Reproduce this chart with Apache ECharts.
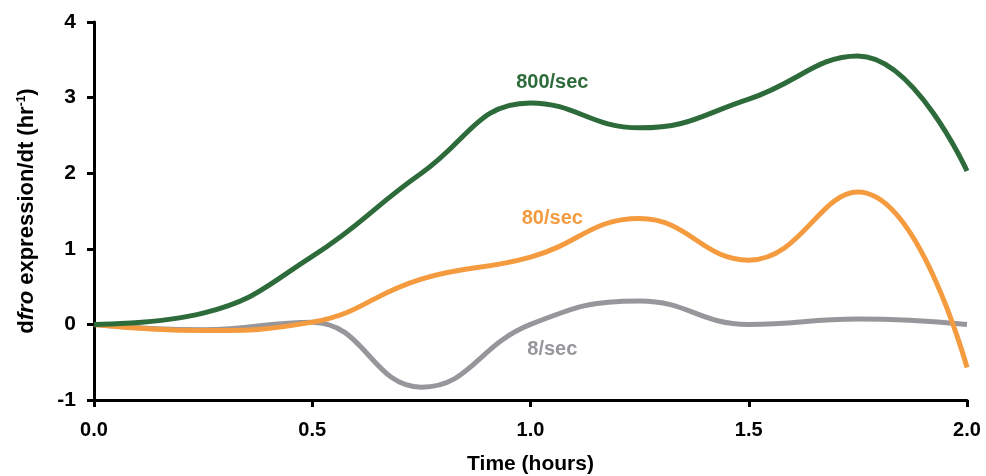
<!DOCTYPE html>
<html><head><meta charset="utf-8">
<script src="https://cdn.jsdelivr.net/npm/echarts@6/dist/echarts.min.js"></script>
<style>html,body{margin:0;padding:0;background:#fff}#c{width:986px;height:476px}</style>
</head><body><div id="c"></div>
<script>
const times = [0, 0.25, 0.5, 0.75, 1.0, 1.25, 1.5, 1.75, 2.0];
const rate800 = [0, 0.15, 0.9, 2.0, 2.93, 2.6, 2.98, 3.55, 2.03];
const rate80 = [0, -0.08, 0.03, 0.6, 0.89, 1.4, 0.85, 1.75, -0.57];
const rate8 = [0, -0.07, 0.03, -0.83, 0.0, 0.31, 0.0, 0.07, 0.0];
const seriesNames = ['800/sec', '80/sec', '8/sec'];
const labelPos = [[1.05, 3.2], [1.05, 1.4], [1.05, -0.33]];
const colors = ['#2E6B3B', '#F59B3F', '#97969B'];

const font = '"Liberation Sans",Arial,sans-serif';
const chart = echarts.init(document.getElementById('c'));
const vals = [rate800, rate80, rate8];
chart.setOption({
  animation: false,
  grid: {left: 94, right: 19, top: 22, bottom: 76, containLabel: false, outerBoundsMode: 'none'},
  xAxis: {
    type: 'value', min: 0, max: 2, interval: 0.5,
    axisLine: {onZero: false, lineStyle: {color: '#000', width: 3}},
    axisTick: {show: true, length: 7, lineStyle: {color: '#000', width: 3}},
    splitLine: {show: false},
    axisLabel: {color: '#000', fontWeight: 'bold', fontSize: 20, fontFamily: font, margin: 20,
      formatter: v => v.toFixed(1)},
    name: 'Time (hours)', nameLocation: 'middle', nameGap: 54,
    nameTextStyle: {color: '#000', fontWeight: 'bold', fontSize: 21, fontFamily: font}
  },
  yAxis: {
    type: 'value', min: -1, max: 4, interval: 1,
    axisLine: {show: true, onZero: false, lineStyle: {color: '#000', width: 3}},
    axisTick: {show: true, length: 7, lineStyle: {color: '#000', width: 3}},
    splitLine: {show: false},
    axisLabel: {color: '#000', fontWeight: 'bold', fontSize: 21, fontFamily: font, margin: 18},
    name: '{n|d}{i|fro}{n| expression/dt (hr}{s|-1}{n|)}',
    nameLocation: 'middle', nameGap: 56, nameRotate: 90,
    nameTextStyle: {
      rich: {
        n: {color: '#000', fontSize: 22, fontFamily: font, fontWeight: 'bold'},
        i: {color: '#000', fontSize: 22, fontFamily: font, fontWeight: 'bold', fontStyle: 'italic'},
        s: {color: '#000', fontSize: 12, fontFamily: font, fontWeight: 'bold', verticalAlign: 'top', padding: [0,0,9,0]}
      }
    }
  },
  series: vals.map((v, k) => ({
    type: 'line', name: seriesNames[k], smooth: 0.45, symbol: 'none',
    data: times.map((t, i) => [t, v[i]]),
    lineStyle: {color: colors[k], width: 5},
    z: 3 - k,
    markPoint: {
      symbol: 'circle', symbolSize: 0,
      data: [{coord: labelPos[k]}],
      label: {show: true, formatter: seriesNames[k], color: colors[k], fontSize: 20,
        fontWeight: 'bold', fontFamily: font, position: 'inside'}
    }
  }))
});
</script></body></html>
